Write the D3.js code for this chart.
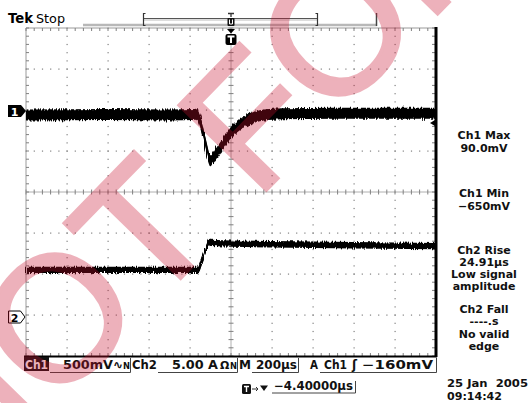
<!DOCTYPE html>
<html><head><meta charset="utf-8">
<script src="https://cdn.jsdelivr.net/npm/d3@7"></script>
<style>html,body{margin:0;padding:0;background:#fff}svg{display:block}</style>
</head><body>
<script>
// ---- data ----
const ch1Time = [-1000,-600,-300,-175,-163,-150,-140,-130,-120,-110,-104,-98,-90,-70,-50,-25,0,20,40,60,85,110,140,180,250,500,1000];
const ch1mV   = [-60,-55,-60,-55,-40,-135,-245,-355,-465,-575,-615,-620,-585,-525,-450,-365,-270,-225,-185,-150,-115,-90,-70,-55,-45,-40,-40];
const ch2Time = [-1000,-600,-300,-157,-145,-134,-122,-111,-100,0,300,600,1000];
const ch2Amp  = [5.5,5.5,5.5,5.5,6.4,7.2,8.1,8.9,8.8,8.7,8.6,8.5,8.4];
const ch1Readout = ["Ch1 Max","90.0mV","Ch1 Min","\u2212650mV"];
const ch2Readout = ["Ch2 Rise","24.91\u00b5s","Low signal","amplitude","Ch2 Fall","----.s","No valid","edge"];
const dateText = ["25 Jan\u00a0\u00a02005","09:14:42"];
const scaleLabels = ["500mV","5.00 A","200\u00b5s","\u2212160mV","\u22124.40000\u00b5s"];
const trigLevel = -160;   // mV
const watermark = "NOT FOR";

// ---- layout ----
const W=530,H=403, X0=26,X1=436,Y0=28,Y1=356;
const svg = d3.select("body").append("svg").attr("width",W).attr("height",H);
const defs = svg.append("defs");
const f = defs.append("filter").attr("id","jag").attr("x","-2%").attr("y","-60%").attr("width","104%").attr("height","220%");
f.append("feTurbulence").attr("type","fractalNoise").attr("baseFrequency","0.9 0.06").attr("numOctaves",2).attr("seed",4).attr("result","t");
f.append("feDisplacementMap").attr("in","SourceGraphic").attr("in2","t").attr("scale",5).attr("xChannelSelector","A").attr("yChannelSelector","G");

const x  = d3.scaleLinear().domain([-1000,1000]).range([X0,X1]);
const y1 = d3.scaleLinear().domain([-3000,1000]).range([Y1,Y0]);
const y2 = d3.scaleLinear().domain([-5,35]).range([Y1,Y0]);
const xMajor = d3.range(-1000,1001,200), xMinor = d3.range(-1000,1001,40);
const yMajor = d3.range(-3000,1001,500), yMinor = d3.range(-3000,1001,100);
const FONT = "'DejaVu Sans', sans-serif";

// ---- graticule ----
const g = svg.append("g");
xMajor.filter(v=>v>-1000&&v<1000&&v!==0).forEach(v=>{
  yMinor.forEach(u=>g.append("rect").attr("x",x(v)-0.5).attr("y",y1(u)-0.5).attr("width",1.2).attr("height",1.2).attr("fill","#808080"));
});
yMajor.filter(u=>u>-3000&&u<1000&&u!==-1000).forEach(u=>{
  xMinor.forEach(v=>g.append("rect").attr("x",x(v)-0.5).attr("y",y1(u)-0.5).attr("width",1.2).attr("height",1.2).attr("fill","#808080"));
});
g.append("line").attr("x1",X0).attr("x2",X1).attr("y1",y1(-1000)).attr("y2",y1(-1000)).attr("stroke","#b0b0b0");
g.append("line").attr("x1",x(0)).attr("x2",x(0)).attr("y1",Y0).attr("y2",Y1).attr("stroke","#b0b0b0");
xMinor.forEach(v=>g.append("line").attr("x1",x(v)).attr("x2",x(v)).attr("y1",y1(-1000)-2.5).attr("y2",y1(-1000)+2.5).attr("stroke","#808080"));
yMinor.forEach(u=>g.append("line").attr("y1",y1(u)).attr("y2",y1(u)).attr("x1",x(0)-2.5).attr("x2",x(0)+2.5).attr("stroke","#808080"));
g.append("line").attr("x1",X0).attr("x2",X1).attr("y1",Y0).attr("y2",Y0).attr("stroke","#9a9a9a");
g.append("line").attr("x1",X0).attr("x2",X0).attr("y1",Y0).attr("y2",Y1).attr("stroke","#9a9a9a");
xMinor.forEach(v=>{
  g.append("line").attr("x1",x(v)).attr("x2",x(v)).attr("y1",Y0).attr("y2",Y0+3).attr("stroke","#808080");
  g.append("line").attr("x1",x(v)).attr("x2",x(v)).attr("y1",Y1-3).attr("y2",Y1).attr("stroke","#808080");
});
yMinor.forEach(u=>{
  g.append("line").attr("y1",y1(u)).attr("y2",y1(u)).attr("x1",X0).attr("x2",X0+3).attr("stroke","#808080");
  g.append("line").attr("y1",y1(u)).attr("y2",y1(u)).attr("x1",X1-4).attr("x2",X1).attr("stroke","#808080");
});
g.append("line").attr("x1",X0-2).attr("x2",X1+1).attr("y1",Y1+0.5).attr("y2",Y1+0.5).attr("stroke","#000").attr("stroke-width",2);
g.append("line").attr("x1",X1).attr("x2",X1).attr("y1",Y0-1).attr("y2",Y1+1).attr("stroke","#000").attr("stroke-width",3);

// ---- traces ----
const ch1 = ch1Time.map((t,i)=>({t,v:ch1mV[i]}));
const ch2 = ch2Time.map((t,i)=>({t,v:ch2Amp[i]}));
const tr = svg.append("g").attr("filter","url(#jag)");
tr.append("path").datum(ch1).attr("fill","#000")
  .attr("d",d3.area().x(d=>x(d.t)).y0(d=>y1(d.v)-5.5).y1(d=>y1(d.v)+5.5));
tr.append("path").datum(ch1).attr("fill","none").attr("stroke","#000").attr("stroke-width",3)
  .attr("d",d3.line().x(d=>x(d.t)).y(d=>y1(d.v)));
tr.append("path").datum(ch2).attr("fill","#000")
  .attr("d",d3.area().x(d=>x(d.t)).y0(d=>y2(d.v)-3.2).y1(d=>y2(d.v)+3.2));
tr.append("path").datum(ch2).attr("fill","none").attr("stroke","#000").attr("stroke-width",2.5)
  .attr("d",d3.line().x(d=>x(d.t)).y(d=>y2(d.v)));

// ---- channel markers ----
const m1 = y1(0)+1, m2 = y2(0)+2;
svg.append("path").attr("d",`M8,${m1-6}H21L26,${m1}L21,${m1+6}H8Z`).attr("fill","#000");
svg.append("text").attr("x",14.5).attr("y",m1+4.5).attr("text-anchor","middle").attr("fill","#fff")
  .attr("font-family",FONT).attr("font-weight","bold").attr("font-size",11).text("1");
svg.append("path").attr("d",`M8.5,${m2-6}H20.5L25,${m2}L20.5,${m2+6}H8.5Z`).attr("fill","#fff").attr("stroke","#000").attr("stroke-width",1);
svg.append("text").attr("x",14.5).attr("y",m2+4.5).attr("text-anchor","middle").attr("fill","#000")
  .attr("font-family",FONT).attr("font-weight","bold").attr("font-size",11).text("2");
const tl = y1(trigLevel);
svg.append("path").attr("d",`M${X1-1},${tl-3}L${X1-6},${tl}L${X1-1},${tl+3}Z`).attr("fill","#000");

// ---- trigger position marker ----
const tx = x(0);
svg.append("path").attr("d",`M${tx-4},29H${tx+4}L${tx},33.5Z`).attr("fill","#000");
svg.append("rect").attr("x",tx-5.5).attr("y",34).attr("width",11).attr("height",11).attr("rx",2).attr("fill","#000");
svg.append("path").attr("d",`M${tx-3.5},36.5H${tx+3.5}M${tx},36.5V43`).attr("stroke","#fff").attr("stroke-width",2);

// ---- record bar at top ----
svg.append("line").attr("x1",83).attr("x2",377).attr("y1",25).attr("y2",25).attr("stroke","#b8b8b8").attr("stroke-width",2.5);
svg.append("line").attr("x1",143).attr("x2",318).attr("y1",18.5).attr("y2",18.5).attr("stroke","#555").attr("stroke-width",1);
svg.append("line").attr("x1",143).attr("x2",318).attr("y1",20).attr("y2",20).attr("stroke","#bbb").attr("stroke-width",1);
svg.append("path").attr("d","M145.5,13.5H143.5V25.5H145.5").attr("fill","none").attr("stroke","#333").attr("stroke-width",1.2);
svg.append("path").attr("d","M315.5,13.5H317.5V25.5H315.5").attr("fill","none").attr("stroke","#333").attr("stroke-width",1.2);
svg.append("line").attr("x1",376.5).attr("x2",376.5).attr("y1",13).attr("y2",26).attr("stroke","#444").attr("stroke-width",1.5);
svg.append("path").attr("d",`M${tx-3},13.5H${tx+3}M${tx},13.5V17`).attr("stroke","#333").attr("stroke-width",1.3);
svg.append("rect").attr("x",tx-3.5).attr("y",18).attr("width",7).attr("height",8).attr("rx",1).attr("fill","#111");
svg.append("path").attr("d",`M${tx-1.5},19.5V24H${tx+1.5}V19.5`).attr("fill","none").attr("stroke","#fff").attr("stroke-width",1);

// ---- texts ----
function txt(s,xx,yy,opt={}){
  const t = svg.append("text").attr("x",xx).attr("y",yy).attr("font-family",FONT)
    .attr("font-weight",opt.weight||"bold").attr("font-size",opt.size||11.5)
    .attr("fill",opt.fill||"#111").attr("text-anchor",opt.anchor||"start").text(s);
  if(opt.len){t.attr("textLength",opt.len).attr("lengthAdjust","spacingAndGlyphs");}
  return t;
}
txt("Tek",8,23,{size:13.5,len:25,fill:"#000"});
txt("Stop",36,23,{size:12.5,len:29,weight:"normal",fill:"#000"});

const ry1=[139,152,197,210];
ch1Readout.forEach((s,i)=>txt(s,484,ry1[i],{anchor:"middle",size:11}));
const ry2=[254,266,278,290,313,325,338,350];
ch2Readout.forEach((s,i)=>txt(s,484,ry2[i],{anchor:"middle",size:11}));
txt(dateText[0],447,387,{len:81,size:11});
txt(dateText[1],447,400,{len:55,size:11});

// status bar
const sb = 369;
svg.append("rect").attr("x",24).attr("y",357).attr("width",25).attr("height",14).attr("fill","#111");
txt("Ch1",25,sb,{fill:"#fff",len:23});
txt(scaleLabels[0],63,sb,{len:50});
txt("\u223F",113,sb,{size:12});
txt("N",123,sb,{size:9,len:7});
txt("Ch2",132,sb,{len:25});
txt(scaleLabels[1],172,sb,{len:46});
txt("\u03A9",220,sb,{size:11});
txt("N",230,sb,{size:9,len:7});
txt("M",239,sb,{len:12});
txt(scaleLabels[2],256,sb,{len:41});
txt("A",310,sb,{len:8});
txt("Ch1",324,sb,{len:23});
txt("\u0283",352,sb,{size:12});
txt(scaleLabels[3],362,sb,{len:71});
const ul = (a,b,yb,yt)=>svg.append("path").attr("d",`M${a},${yb}H${b}V${yt}`).attr("fill","none").attr("stroke","#444").attr("stroke-width",1);
ul(50,130.5,372.5,358);
ul(158,237.5,372.5,358);
ul(252,298.5,372.5,358);
ul(320,436.5,372.5,358);
svg.append("rect").attr("x",242).attr("y",384).attr("width",9).attr("height",10).attr("rx",1.5).attr("fill","#111");
svg.append("path").attr("d","M244,386.5H249M246.5,386.5V392").attr("stroke","#fff").attr("stroke-width",1.4);
svg.append("path").attr("d","M252,389H258M256,387L258,389L256,391").attr("fill","none").attr("stroke","#333").attr("stroke-width",1);
svg.append("path").attr("d","M260,385.5H268L264,391Z").attr("fill","#111");
txt(scaleLabels[4],274,390,{len:79});
ul(272,355.5,393,381);

// ---- watermark ----
svg.append("g").attr("opacity",0.32)
  .append("text").attr("transform","translate(-36.3,501.4) rotate(-45.8)")
  .attr("x",0).attr("y",0).attr("font-family","'Liberation Sans', Arial, sans-serif")
  .attr("font-size",177).attr("fill","#c8102e").attr("stroke","#c8102e").attr("stroke-width",3.5)
  .attr("stroke-linejoin","miter").attr("xml:space","preserve").style("white-space","pre").text(watermark);
</script>
</body></html>
